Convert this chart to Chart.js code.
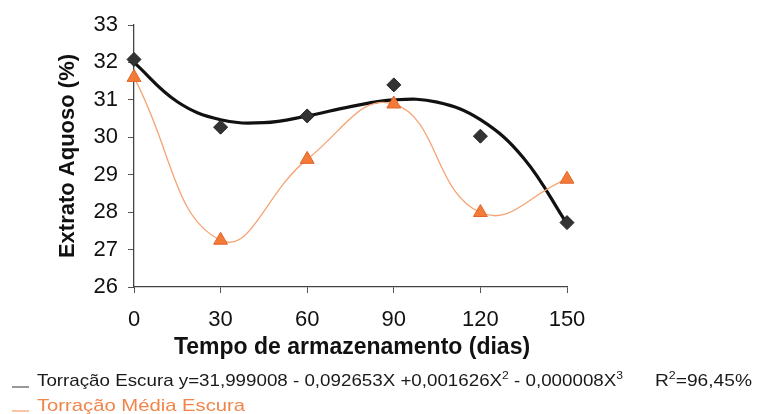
<!DOCTYPE html>
<html>
<head>
<meta charset="utf-8">
<script src="https://cdn.jsdelivr.net/npm/chart.js@4"></script>
<style>
  html, body { margin: 0; padding: 0; background: #fff; }
  #wrap { width: 757px; height: 414px; position: relative; }
</style>
</head>
<body>
<div id="wrap"><canvas id="c"></canvas></div>
<script>
// Storage time (days)
const dias = [0, 30, 60, 90, 120, 150];
// Dark roast – measured aqueous extract (%)
const escura = [32.08, 30.27, 30.57, 31.40, 30.03, 27.72];
// Medium-dark roast – measured aqueous extract (%)
const mediaEscura = [31.60, 27.25, 29.41, 30.89, 27.99, 28.88];
// Dark roast fitted cubic curve, sampled every 15 days
const ajusteDias = [0, 15, 30, 45, 60, 75, 90, 105, 120, 135, 150];
const ajusteEscura = [32.00, 30.95, 30.47, 30.39, 30.57, 30.82, 31.00, 30.94, 30.47, 29.44, 27.69];
// Axis ticks
const yTicks = [26, 27, 28, 29, 30, 31, 32, 33];
const xTicks = [0, 30, 60, 90, 120, 150];

const toXY = (xs, ys) => xs.map((x, i) => ({ x: x, y: ys[i] }));

const textPlugin = {
  id: 'textos',
  afterDraw(chart) {
    const ctx = chart.ctx;
    const area = chart.chartArea;
    ctx.save();
    ctx.fillStyle = '#111';
    ctx.textAlign = 'center';
    ctx.textBaseline = 'middle';

    // y-axis title
    ctx.save();
    ctx.translate(68, (area.top + area.bottom) / 2);
    ctx.rotate(-Math.PI / 2);
    ctx.font = 'bold 22px "Liberation Sans", Arial, sans-serif';
    ctx.fillText('Extrato Aquoso (%)', 0, 0);
    ctx.restore();

    // x-axis title
    ctx.font = 'bold 23px "Liberation Sans", Arial, sans-serif';
    ctx.fillText('Tempo de armazenamento (dias)', 352, 348);

    // legend rows
    const fam = '"Liberation Sans Narrow", "Liberation Sans", Arial, sans-serif';
    function drawRich(segs, x, y, target, color) {
      ctx.save();
      ctx.textAlign = 'left';
      ctx.textBaseline = 'alphabetic';
      let w = 0;
      segs.forEach(s => {
        ctx.font = (s.sup ? '11px ' : '17px ') + fam;
        w += ctx.measureText(s.t).width;
      });
      const k = target / w;
      ctx.translate(x, y);
      ctx.scale(k, 1);
      let cx = 0;
      ctx.fillStyle = color;
      segs.forEach(s => {
        ctx.font = (s.sup ? '11px ' : '17px ') + fam;
        ctx.fillText(s.t, cx, s.sup ? -7 : 0);
        cx += ctx.measureText(s.t).width;
      });
      ctx.restore();
    }

    ctx.lineWidth = 1.2;
    ctx.strokeStyle = '#555';
    ctx.beginPath(); ctx.moveTo(12, 387); ctx.lineTo(29, 387); ctx.stroke();
    ctx.strokeStyle = '#f4a06c';
    ctx.beginPath(); ctx.moveTo(12, 411); ctx.lineTo(29, 411); ctx.stroke();

    drawRich([
      { t: 'Torração Escura y=31,999008 - 0,092653X +0,001626X' },
      { t: '2', sup: true },
      { t: ' - 0,000008X' },
      { t: '3', sup: true }
    ], 37, 386, 586, '#1a1a1a');
    drawRich([
      { t: 'R' }, { t: '2', sup: true }, { t: '=96,45%' }
    ], 655, 386, 97, '#1a1a1a');
    drawRich([{ t: 'Torração Média Escura' }], 37, 411, 208, '#f0854a');
    ctx.restore();
  }
};

new Chart(document.getElementById('c'), {
  type: 'scatter',
  data: {
    datasets: [
      {
        label: 'Torração Escura (ajuste)',
        data: toXY(ajusteDias, ajusteEscura),
        showLine: true,
        clip: false,
        borderColor: '#111',
        borderWidth: 3.2,
        tension: 0.4,
        pointRadius: 0,
        order: 3
      },
      {
        label: 'Torração Média Escura',
        data: toXY(dias, mediaEscura),
        showLine: true,
        clip: false,
        borderColor: '#f6a474',
        borderWidth: 1.3,
        tension: 0.45,
        pointStyle: 'triangle',
        pointRadius: 8,
        pointBackgroundColor: '#f47a38',
        pointBorderColor: '#e0652a',
        pointBorderWidth: 1,
        order: 2
      },
      {
        label: 'Torração Escura',
        data: toXY(dias, escura),
        showLine: false,
        clip: false,
        pointStyle: 'rectRot',
        pointRadius: 7,
        pointBackgroundColor: '#333',
        pointBorderColor: '#222',
        pointBorderWidth: 1,
        order: 1
      }
    ]
  },
  options: {
    responsive: true,
    maintainAspectRatio: false,
    animation: false,
    layout: { padding: { left: 0, top: 25, right: 190, bottom: 0 } },
    plugins: { legend: { display: false }, tooltip: { enabled: false } },
    scales: {
      x: {
        type: 'linear',
        min: 0, max: 150,
        afterFit(s) { s.height = 127; },
        afterBuildTicks(s) { s.ticks = xTicks.map(v => ({ value: v })); },
        grid: { drawOnChartArea: false, tickLength: 6, color: '#555', tickWidth: 1 },
        border: { color: '#444', width: 1.3 },
        ticks: {
          padding: 14,
          color: '#111',
          maxRotation: 0,
          font: { family: '"Liberation Sans", Arial, sans-serif', size: 22 }
        }
      },
      y: {
        min: 26, max: 33,
        afterFit(s) { s.width = 134; },
        afterBuildTicks(s) { s.ticks = yTicks.map(v => ({ value: v })); },
        grid: { drawOnChartArea: false, tickLength: 6, color: '#555', tickWidth: 1 },
        border: { color: '#444', width: 1.3 },
        ticks: {
          padding: 10,
          color: '#111',
          font: { family: '"Liberation Sans", Arial, sans-serif', size: 22 }
        }
      }
    }
  },
  plugins: [textPlugin]
});
</script>
</body>
</html>
